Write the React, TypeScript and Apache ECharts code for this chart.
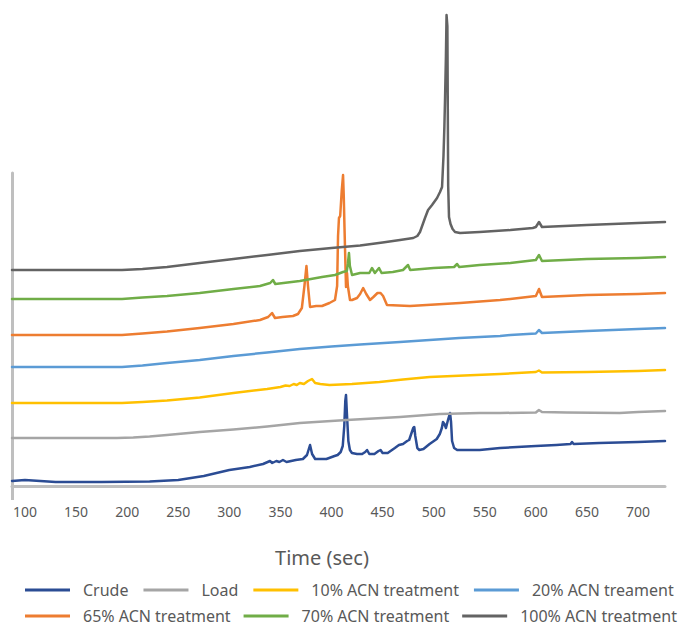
import React, { useEffect, useRef } from "react";
import * as echarts from "echarts";

// x tick labels (seconds)
const xTickLabels = [100, 150, 200, 250, 300, 350, 400, 450, 500, 550, 600, 650, 700];

// Each trace: [time (sec), relative signal (offset stacked, arbitrary units)]
const crude: [number, number][] = [
  [87.3, 5], [100, 6], [115, 5], [130, 4], [175, 4], [222, 4.5], [250, 6], [275, 10], [300, 16],
  [320, 19], [333, 22], [339.8, 25], [342, 23], [346, 25], [349, 24], [352.5, 26], [356, 24],
  [365, 26], [372, 27], [376, 31], [379, 41], [381, 32], [384, 27], [395, 27], [403, 30],
  [406, 31], [409, 34], [411, 40], [412.5, 60], [413.5, 85], [414.2, 91], [415.2, 70],
  [416.5, 45], [418, 36], [420, 33], [425, 32], [430, 32], [433, 34], [434.8, 36], [437, 32],
  [442, 32], [446, 35], [448, 36], [450, 33], [455, 33], [462, 38], [466, 41], [470, 42],
  [474, 45], [476, 46], [478, 52], [480, 58], [481, 59], [482, 50], [484, 38], [486, 36],
  [490, 37], [496, 42], [503, 47], [506, 52], [508, 58], [509.1, 64], [510.5, 62], [512, 58],
  [514, 66], [516, 73], [517, 64], [518, 45], [520, 38], [523, 36], [530, 36], [545, 36],
  [565, 38], [600, 40], [620, 41], [634, 42], [635.4, 44], [637, 42], [662, 43], [700, 44],
  [726.4, 45],
];

const load: [number, number][] = [
  [87.3, 48], [173, 48], [190, 48], [206, 48.5], [222, 49.5], [239, 51], [255, 52.5], [271, 54],
  [304, 56.5], [337, 59.5], [369, 63], [415, 66], [467, 69], [506, 72], [545, 73], [565, 73],
  [600, 73.5], [603, 76], [606, 74], [630, 73.5], [682, 73], [700, 74], [726.4, 75],
];

const acn10: [number, number][] = [
  [87.3, 83], [173, 83], [195, 83], [215, 84], [239, 85.5], [271, 88.5], [304, 93], [337, 97],
  [350, 99], [355, 100.5], [359, 100], [363, 102], [366, 101], [369, 103], [373, 102],
  [377, 105], [380.9, 107], [384, 103], [389, 102], [398, 101], [420, 102], [447, 104],
  [470, 106.5], [496, 109], [530, 110.5], [565, 112], [600, 114], [603, 115.5], [606, 113.5],
  [650, 114], [700, 115], [726.4, 116],
];

const acn20: [number, number][] = [
  [87.3, 119], [173, 119], [195, 119], [215, 120.5], [239, 123], [271, 126], [304, 130],
  [337, 133.5], [369, 137], [400, 139.5], [428, 141.5], [467, 144], [525, 148], [565, 150],
  [575, 151], [600, 152.5], [603, 156], [606, 153], [650, 155], [700, 157], [726.4, 158],
];

const acn65: [number, number][] = [
  [87.3, 151], [173, 151], [195, 151], [215, 152.5], [239, 154.5], [271, 158], [304, 162],
  [330, 166], [338, 169], [341.8, 173], [344.7, 168], [352, 169], [362.3, 170], [367.2, 172],
  [371, 178], [373.5, 200], [375.5, 220], [377, 200], [379, 179], [385, 180], [390.7, 180],
  [398, 183], [403.4, 186], [405.5, 200], [406.4, 250], [407.3, 268], [408.5, 270], [410, 295],
  [411.3, 311], [412, 290], [412.7, 259], [414.2, 199], [415.2, 213], [416, 200],
  [418.1, 186], [420.1, 186], [425, 188], [428, 192], [431, 198], [434, 192], [437.7, 186],
  [441, 189], [445, 193], [448, 193], [450.5, 190], [454.3, 181], [476.8, 180],
  [525.8, 183], [565, 186], [575, 187], [600, 190], [603.1, 197], [606, 189], [650, 191],
  [700, 192], [726.4, 193],
];

const acn70: [number, number][] = [
  [87.3, 187], [173, 187], [195, 187], [215, 188.5], [239, 190], [271, 193], [304, 197],
  [330, 200], [340, 203], [342.7, 206], [345, 202], [369, 205], [390.7, 209], [403.4, 211],
  [411.3, 214], [415, 215], [416, 222], [417.1, 233], [418, 220], [420.1, 211], [428, 213],
  [437, 213], [439.6, 218], [442.5, 213], [446.5, 218], [449, 213], [460, 214], [470, 216],
  [474.9, 221], [477, 216], [500, 218], [520, 219], [522.9, 222], [525, 219], [545, 221],
  [575, 223], [600, 226], [603.1, 231], [606, 225], [650, 227], [700, 228], [726.4, 229],
];

const acn100: [number, number][] = [
  [87.3, 216], [173, 216], [195, 216], [215, 217], [239, 219], [271, 223], [304, 227],
  [337, 231], [369, 235], [400, 238], [428, 240.5], [450, 243.5], [467, 246], [480, 248],
  [484, 250], [486.6, 254], [491.5, 268], [494.5, 276], [498.4, 281], [503.3, 288],
  [506.2, 294], [508.2, 299], [509.6, 330], [510.5, 360], [511.1, 386], [512, 430],
  [512.6, 471], [513.4, 460], [514.2, 300], [515, 269], [516.5, 262], [518.5, 257],
  [520.9, 254], [525.8, 253], [545, 254], [575, 256], [597, 258], [600, 259], [603.1, 264],
  [606, 259], [650, 261], [700, 263], [726.4, 264],
];

const seriesNames = [
  "Crude",
  "Load",
  "10% ACN treatment",
  "20% ACN treament",
  "65% ACN treatment",
  "70% ACN treatment",
  "100% ACN treatment",
];
const seriesData = [crude, load, acn10, acn20, acn65, acn70, acn100];
const seriesColors = ["#2b4c94", "#a5a5a5", "#ffc000", "#5b9bd5", "#ed7d31", "#70ad47", "#636363"];

export default function App() {
  const ref = useRef<HTMLDivElement>(null);
  useEffect(() => {
    if (!ref.current) return;
    const chart = echarts.init(ref.current, null, { renderer: "svg" });
    const legendBase = {
      left: 25,
      padding: 0,
      itemWidth: 45,
      itemHeight: 3,
      icon: "rect",
      selectedMode: false,
      textStyle: {
        color: "#595959",
        fontSize: 16,
        lineHeight: 18,
        fontFamily: "Noto Sans",
        padding: [0, 0, 0, 8],
      },
    };
    chart.setOption({
      animation: false,
      backgroundColor: "#ffffff",
      textStyle: { fontFamily: "Noto Sans" },
      grid: { left: 12, right: 14, top: 173, bottom: 140, containLabel: false },
      xAxis: {
        type: "value",
        min: 87.3,
        max: 726.4,
        axisLine: { show: true, onZero: false, lineStyle: { color: "#bfbfbf", width: 3 } },
        axisTick: {
          show: true,
          customValues: [87.3],
          length: 14,
          lineStyle: { color: "#bfbfbf", width: 3 },
        },
        axisLabel: {
          customValues: xTickLabels,
          color: "#595959",
          fontSize: 14,
          margin: 18,
          fontFamily: "Noto Sans",
        },
        splitLine: { show: false },
      },
      yAxis: {
        type: "value",
        min: 0,
        max: 313,
        axisLine: { show: true, onZero: false, lineStyle: { color: "#bfbfbf", width: 3 } },
        axisTick: { show: false },
        axisLabel: { show: false },
        splitLine: { show: false },
      },
      legend: [
        { ...legendBase, top: 581, itemGap: 15, data: seriesNames.slice(0, 4) },
        { ...legendBase, top: 607, itemGap: 13, data: seriesNames.slice(4) },
      ],
      graphic: [
        {
          type: "text",
          x: 322,
          y: 557,
          style: {
            text: "Time (sec)",
            fill: "#595959",
            fontSize: 20,
            fontFamily: "Noto Sans",
            align: "center",
            verticalAlign: "middle",
            textAlign: "center",
            textVerticalAlign: "middle",
          },
        },
      ],
      series: seriesNames.map((name, i) => ({
        name,
        type: "line",
        data: seriesData[i],
        symbol: "none",
        showSymbol: false,
        clip: false,
        color: seriesColors[i],
        lineStyle: { color: seriesColors[i], width: 2.5, join: "round", cap: "round" },
      })),
    });
    return () => chart.dispose();
  }, []);
  return (
    <div
      ref={ref}
      style={{ position: "fixed", left: 0, top: 0, width: 679, height: 626, background: "#fff" }}
    />
  );
}
